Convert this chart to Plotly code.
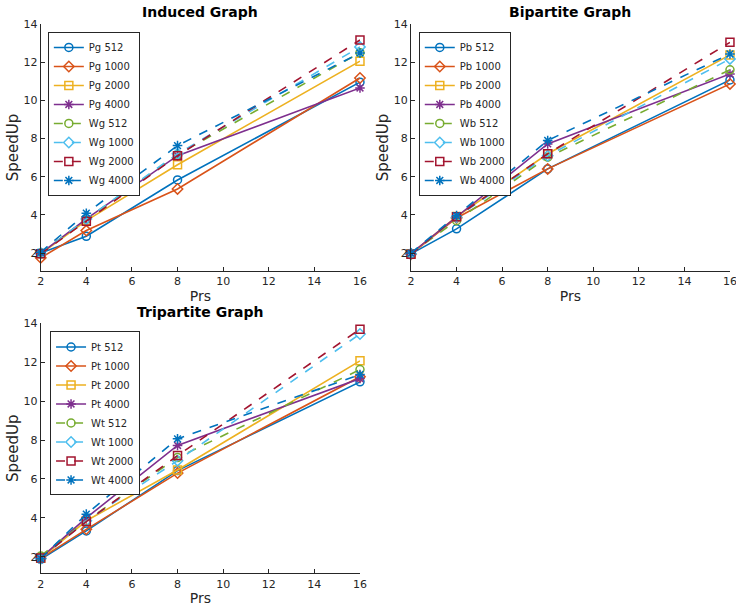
import plotly.graph_objects as go

prs = [2, 4, 8, 16]
size_labels = ["512", "1000", "2000", "4000"]

# Induced graph
pg_512 = [2.00, 2.88, 5.83, 10.95]
pg_1000 = [1.75, 3.18, 5.36, 11.17]
pg_2000 = [1.96, 3.70, 6.63, 12.05]
pg_4000 = [1.98, 3.79, 7.10, 10.65]
wg_512 = [2.00, 3.76, 7.16, 12.50]
wg_1000 = [1.98, 3.79, 7.20, 12.80]
wg_2000 = [1.96, 3.67, 7.10, 13.16]
wg_4000 = [2.04, 4.09, 7.63, 12.48]

# Bipartite graph
pb_512 = [1.96, 3.27, 6.41, 11.07]
pb_1000 = [1.94, 3.84, 6.41, 10.86]
pb_2000 = [1.96, 3.91, 7.20, 12.38]
pb_4000 = [1.98, 3.88, 7.72, 11.38]
wb_512 = [1.98, 3.70, 7.02, 11.60]
wb_1000 = [1.96, 3.88, 7.10, 12.17]
wb_2000 = [1.94, 3.90, 7.20, 13.04]
wb_4000 = [2.00, 3.96, 7.90, 12.43]

# Tripartite graph
pt_512 = [1.87, 3.33, 6.43, 10.99]
pt_1000 = [1.92, 3.41, 6.30, 11.25]
pt_2000 = [1.92, 3.85, 6.46, 12.07]
pt_4000 = [1.94, 4.00, 7.72, 11.16]
wt_512 = [2.04, 3.85, 7.10, 11.62]
wt_1000 = [1.90, 3.85, 6.94, 13.45]
wt_2000 = [1.94, 3.81, 7.20, 13.70]
wt_4000 = [1.90, 4.19, 8.06, 11.37]

colors = ["#0072BD", "#D95319", "#EDB120", "#7E2F8E",
          "#77AC30", "#4DBEEE", "#A2142F", "#0072BD"]
symbols = ["circle-open", "diamond-open", "square-open", "asterisk-open"] * 2

panels = [
    ("Pg", "Wg", [pg_512, pg_1000, pg_2000, pg_4000, wg_512, wg_1000, wg_2000, wg_4000], "x", "y", "legend"),
    ("Pb", "Wb", [pb_512, pb_1000, pb_2000, pb_4000, wb_512, wb_1000, wb_2000, wb_4000], "x2", "y2", "legend2"),
    ("Pt", "Wt", [pt_512, pt_1000, pt_2000, pt_4000, wt_512, wt_1000, wt_2000, wt_4000], "x3", "y3", "legend3"),
]

fig = go.Figure()
for pre_p, pre_w, series, xa, ya, lg in panels:
    for i, vals in enumerate(series):
        name = (pre_p if i < 4 else pre_w) + " " + size_labels[i % 4]
        fig.add_trace(go.Scatter(
            x=prs, y=vals, name=name, mode="lines+markers",
            xaxis=xa, yaxis=ya, legend=lg, cliponaxis=False,
            line=dict(color=colors[i], width=1.6, dash="solid" if i < 4 else "dash"),
            marker=dict(symbol=symbols[i], size=8, color=colors[i],
                        line=dict(width=1.5, color=colors[i])),
        ))

axcol = "#262626"
tickfont = dict(family="DejaVu Sans", size=11, color=axcol)
labfont = dict(family="DejaVu Sans", size=15, color=axcol)
xlabfont = dict(family="DejaVu Sans", size=14, color=axcol)

def xax(domain, anchor):
    return dict(domain=domain, anchor=anchor, range=[2, 16], tickvals=[2, 4, 6, 8, 10, 12, 14, 16],
                showline=True, linecolor=axcol, linewidth=1, ticks="inside", ticklen=4,
                tickcolor=axcol, showgrid=False, zeroline=False, tickfont=tickfont,
                ticklabeloverflow="allow",
                automargin=False, title=dict(text="Prs", font=xlabfont, standoff=3))

def yax(domain, anchor, rng, standoff):
    return dict(domain=domain, anchor=anchor, range=rng, tickvals=[2, 4, 6, 8, 10, 12, 14],
                showline=True, linecolor=axcol, linewidth=1, ticks="inside", ticklen=4,
                tickcolor=axcol, showgrid=False, zeroline=False, tickfont=tickfont,
                ticklabeloverflow="allow",
                automargin=False, title=dict(text="SpeedUp", font=labfont, standoff=standoff))

legstyle = dict(font=dict(family="DejaVu Sans", size=10, color=axcol), bgcolor="white",
                bordercolor=axcol, borderwidth=1, xanchor="left", yanchor="top",
                tracegroupgap=0, itemwidth=30)

title_font = dict(family="DejaVu Sans", size=14, color="black")

fig.update_layout(
    width=736, height=615,
    margin=dict(l=0, r=0, t=0, b=0, autoexpand=False),
    paper_bgcolor="white", plot_bgcolor="white",
    xaxis=xax([0.0553, 0.4891], "y"),
    yaxis=yax([0.5593, 0.961], "x", [1.06, 14], 1),
    xaxis2=xax([0.5584, 0.9918], "y2"),
    yaxis2=yax([0.5593, 0.961], "x2", [1.06, 14], 1),
    xaxis3=xax([0.0553, 0.4891], "y3"),
    yaxis3=yax([0.0678, 0.4743], "x3", [1.15, 14], 1),
    legend=dict(x=0.065, y=0.948, **legstyle),
    legend2=dict(x=0.569, y=0.948, **legstyle),
    legend3=dict(x=0.068, y=0.461, **legstyle),
    annotations=[
        dict(text="<b>Induced Graph</b>", x=0.272, y=1 - 12.5 / 615, xref="paper", yref="paper",
             xanchor="center", yanchor="middle", showarrow=False, font=title_font),
        dict(text="<b>Bipartite Graph</b>", x=0.775, y=1 - 12.5 / 615, xref="paper", yref="paper",
             xanchor="center", yanchor="middle", showarrow=False, font=title_font),
        dict(text="<b>Tripartite Graph</b>", x=0.272, y=1 - 312 / 615, xref="paper", yref="paper",
             xanchor="center", yanchor="middle", showarrow=False, font=title_font),
    ],
)

fig.write_html("out.html", config={"displayModeBar": False},
               post_script="document.body.style.margin='0';document.body.style.padding='0';")
